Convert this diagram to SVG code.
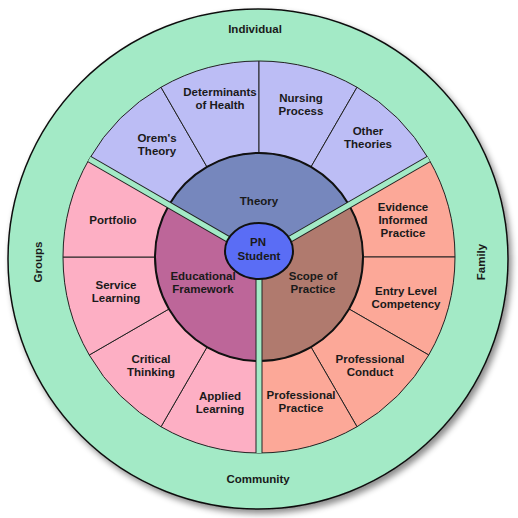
<svg xmlns="http://www.w3.org/2000/svg" width="518" height="518" viewBox="0 0 518 518">
<style>
text{font-family:"Liberation Sans",Arial,sans-serif;font-weight:bold;font-size:11.5px;fill:#1a1a1a;text-anchor:middle}
.seg{stroke:#222;stroke-width:1}
.th{fill:#bcbdf5}.ed{fill:#fdafc4}.sc{fill:#fca898}
.mid{stroke:#111;stroke-width:2}
.gapb{stroke:#222;stroke-width:7;fill:none}
.gapg{stroke:#a3eac6;stroke-width:5;fill:none}
</style>
<defs>
<filter id="sh" x="-10%" y="-10%" width="125%" height="125%">
<feDropShadow dx="3" dy="4" stdDeviation="3" flood-color="#000" flood-opacity="0.45"/>
</filter>
</defs>
<g id="outer-ring">
<circle cx="258" cy="259" r="250" fill="#a3eac6" stroke="#111" stroke-width="1.5" filter="url(#sh)"/>
<text x="255" y="33">Individual</text>
<text x="258" y="483">Community</text>
<text transform="translate(42,262) rotate(-90)">Groups</text>
<text transform="translate(485,262) rotate(-90)">Family</text>
</g>
<g id="theory-segments">
<g id="orems-theory"><path class="seg th" d="M89.26 159 A196 196 0 0 1 161 87.26 L207 166.93 A104 104 0 0 0 168.93 205 Z"/><text x="157" y="142">Orem's<tspan x="157" dy="13">Theory</tspan></text></g>
<g id="determinants"><path class="seg th" d="M161 87.26 A196 196 0 0 1 259 61 L259 153 A104 104 0 0 0 207 166.93 Z"/><text x="220" y="96">Determinants<tspan x="220" dy="13">of Health</tspan></text></g>
<g id="nursing-process"><path class="seg th" d="M259 61 A196 196 0 0 1 357 87.26 L311 166.93 A104 104 0 0 0 259 153 Z"/><text x="301" y="102">Nursing<tspan x="301" dy="13">Process</tspan></text></g>
<g id="other-theories"><path class="seg th" d="M357 87.26 A196 196 0 0 1 428.74 159 L349.07 205 A104 104 0 0 0 311 166.93 Z"/><text x="368" y="135">Other<tspan x="368" dy="13">Theories</tspan></text></g>
</g>
<g id="scope-segments">
<g id="evidence"><path class="seg sc" d="M428.74 159 A196 196 0 0 1 455 257 L363 257 A104 104 0 0 0 349.07 205 Z"/><text x="403" y="211">Evidence<tspan x="403" dy="13">Informed</tspan><tspan x="403" dy="13">Practice</tspan></text></g>
<g id="entry-level"><path class="seg sc" d="M455 257 A196 196 0 0 1 428.74 355 L349.07 309 A104 104 0 0 0 363 257 Z"/><text x="406" y="295">Entry Level<tspan x="406" dy="13">Competency</tspan></text></g>
<g id="prof-conduct"><path class="seg sc" d="M428.74 355 A196 196 0 0 1 357 426.74 L311 347.07 A104 104 0 0 0 349.07 309 Z"/><text x="370" y="363">Professional<tspan x="370" dy="13">Conduct</tspan></text></g>
<g id="prof-practice"><path class="seg sc" d="M357 426.74 A196 196 0 0 1 259 453 L259 361 A104 104 0 0 0 311 347.07 Z"/><text x="301" y="399">Professional<tspan x="301" dy="13">Practice</tspan></text></g>
</g>
<g id="education-segments">
<g id="applied-learning"><path class="seg ed" d="M259 453 A196 196 0 0 1 161 426.74 L207 347.07 A104 104 0 0 0 259 361 Z"/><text x="220" y="400">Applied<tspan x="220" dy="13">Learning</tspan></text></g>
<g id="critical-thinking"><path class="seg ed" d="M161 426.74 A196 196 0 0 1 89.26 355 L168.93 309 A104 104 0 0 0 207 347.07 Z"/><text x="151" y="363">Critical<tspan x="151" dy="13">Thinking</tspan></text></g>
<g id="service-learning"><path class="seg ed" d="M89.26 355 A196 196 0 0 1 63 257 L155 257 A104 104 0 0 0 168.93 309 Z"/><text x="116" y="289">Service<tspan x="116" dy="13">Learning</tspan></text></g>
<g id="portfolio"><path class="seg ed" d="M63 257 A196 196 0 0 1 89.26 159 L168.93 205 A104 104 0 0 0 155 257 Z"/><text x="113" y="224">Portfolio</text></g>
</g>
<g id="theory"><path class="mid" fill="#7687bd" d="M259 257 L168.93 205 A104 104 0 0 1 349.07 205 Z"/><text x="259" y="205">Theory</text></g>
<g id="scope-of-practice"><path class="mid" fill="#b07a6e" d="M259 257 L349.07 205 A104 104 0 0 1 259 361 Z"/><text x="313" y="280">Scope of<tspan x="313" dy="13">Practice</tspan></text></g>
<g id="educational-framework"><path class="mid" fill="#bd6699" d="M259 257 L259 361 A104 104 0 0 1 168.93 205 Z"/><text x="203" y="280">Educational<tspan x="203" dy="13">Framework</tspan></text></g>
<g id="connectors">
<path class="gapb" d="M259 257 L89.26 159 M259 257 L428.74 159 M259 257 L259 453"/>
<path class="gapg" d="M259 257 L89.26 159 M259 257 L428.74 159 M259 257 L259 453"/>
</g>
<g id="pn-student">
<ellipse cx="259" cy="251" rx="34" ry="28" fill="#5a6df5" stroke="#111" stroke-width="2"/>
<text x="258" y="246">PN<tspan x="259" dy="14">Student</tspan></text>
</g>
</svg>
